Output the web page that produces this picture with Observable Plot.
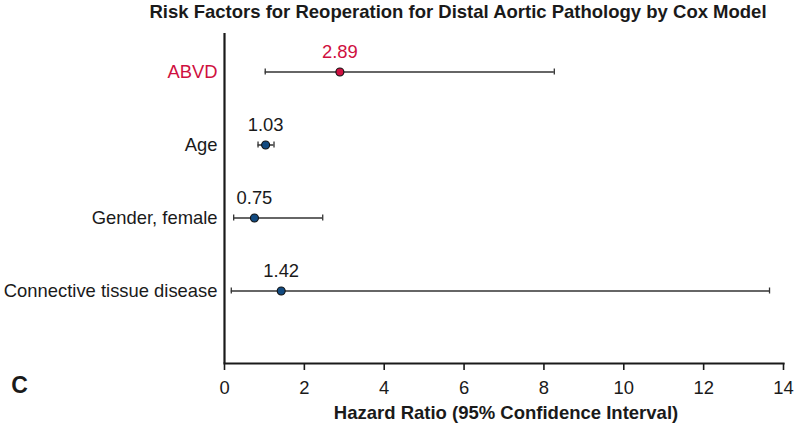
<!DOCTYPE html>
<html>
<head>
<meta charset="utf-8">
<script src="https://cdn.jsdelivr.net/npm/d3@7"></script>
<script src="https://cdn.jsdelivr.net/npm/@observablehq/plot@0.6"></script>
<style>
  html, body { margin: 0; padding: 0; background: #fff; }
</style>
</head>
<body>
<div id="chart"></div>
<script>
const factors = ["ABVD", "Age", "Gender, female", "Connective tissue disease"];
const hazardRatio = [2.89, 1.03, 0.75, 1.42];
const ciLower = [1.02, 0.84, 0.23, 0.17];
const ciUpper = [8.26, 1.24, 2.46, 13.65];
const hrLabels = ["2.89", "1.03", "0.75", "1.42"];
const highlighted = ["ABVD"];
const xTicks = [0, 2, 4, 6, 8, 10, 12, 14];
const titleText = "Risk Factors for Reoperation for Distal Aortic Pathology by Cox Model";
const xLabelText = "Hazard Ratio (95% Confidence Interval)";
const panelLetter = "C";

const RED = "#cf1040";
const BLUE = "#124a80";
const INK = "#1a1a1a";

const rows = factors.map((f, i) => ({
  factor: f,
  hr: hazardRatio[i],
  lo: ciLower[i],
  hi: ciUpper[i],
  label: hrLabels[i],
  hl: highlighted.includes(f)
}));

const chart = Plot.plot({
  width: 795,
  height: 430,
  marginLeft: 224,
  marginRight: 12,
  marginTop: 33,
  marginBottom: 67,
  style: { fontFamily: "'Liberation Sans', Arial, Helvetica, sans-serif", background: "#fff" },
  x: { domain: [0, 14] },
  y: { type: "band", domain: factors, padding: 0, insetBottom: 35, axis: null },
  marks: [
    Plot.ruleX([0], { stroke: INK, strokeWidth: 2.2 }),
    Plot.frame({ anchor: "bottom", stroke: INK, strokeWidth: 2.2 }),
    Plot.axisX({ ticks: xTicks, tickSize: 7, tickPadding: 10, fontSize: 18.4, stroke: INK, strokeWidth: 1.6, fill: INK, tickFormat: d => String(d), label: null }),
    Plot.ruleY(rows, { y: "factor", x1: "lo", x2: "hi", stroke: "#333", strokeWidth: 1.5 }),
    Plot.tickX(rows, { x: "lo", y: "factor", insetTop: 33.5, insetBottom: 33.5, stroke: "#333", strokeWidth: 1.3 }),
    Plot.tickX(rows, { x: "hi", y: "factor", insetTop: 33.5, insetBottom: 33.5, stroke: "#333", strokeWidth: 1.3 }),
    Plot.dot(rows, { x: "hr", y: "factor", r: 4, fill: d => d.hl ? RED : BLUE, stroke: "#111", strokeWidth: 1.1 }),
    Plot.text(rows, { x: "hr", y: "factor", text: "label", dy: -20, fontSize: 18.4, fill: d => d.hl ? RED : INK }),
    Plot.text(rows, { x: 0, y: "factor", text: "factor", textAnchor: "end", dx: -7, fontSize: 18.4, fill: d => d.hl ? RED : INK }),
    Plot.text([titleText], { frameAnchor: "top", lineAnchor: "middle", textAnchor: "middle", dx: -46, dy: -21, fontSize: 18.5, fontWeight: "bold", fill: INK }),
    Plot.text([xLabelText], { frameAnchor: "bottom", lineAnchor: "middle", textAnchor: "middle", dx: 2, dy: 50, fontSize: 18.5, fontWeight: "bold", fill: INK }),
    Plot.text([panelLetter], { frameAnchor: "bottom-left", lineAnchor: "middle", textAnchor: "middle", dx: -205, dy: 22, fontSize: 23, fontWeight: "bold", fill: INK })
  ]
});
document.getElementById("chart").append(chart);
</script>
</body>
</html>
